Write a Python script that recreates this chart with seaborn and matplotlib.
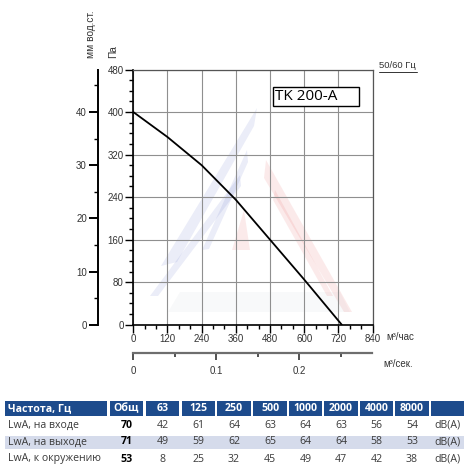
import numpy as np
import pandas as pd

import seaborn as sns
import matplotlib
matplotlib.use('Agg')
import matplotlib.pyplot as plt
from matplotlib.lines import Line2D
from matplotlib.patches import Rectangle, Polygon
from matplotlib.ticker import MultipleLocator

# =========================
#  DATA
# =========================

MODEL_NAME = 'TK 200-A'
FREQ_NOTE = '50/60 Гц'

FLOW_M3H = [0, 120, 240, 360, 480, 600, 732]
PRESSURE_PA = [400, 353, 300, 235, 160, 85, 0]

FLOW_TICKS = [0, 120, 240, 360, 480, 600, 720, 840]
PA_TICKS = [0, 80, 160, 240, 320, 400, 480]
MM_TICKS = [0, 10, 20, 30, 40]
FLOW_S_TICKS = [0, 0.1, 0.2]
FLOW_S_MAX = 0.287

TABLE_HEADER = ['Частота, Гц', 'Общ', '63', '125', '250', '500',
                '1000', '2000', '4000', '8000', '']
ROW_LABELS = ['LwA, на входе', 'LwA, на выходе', 'LwA, к окружению']
TOTAL_DB = [70, 71, 53]
INLET_DB = [42, 61, 64, 63, 64, 63, 56, 54]
OUTLET_DB = [49, 59, 62, 65, 64, 64, 58, 53]
SURROUND_DB = [8, 25, 32, 45, 49, 47, 42, 38]
UNIT = 'dB(A)'

# =========================
#  LAYOUT (pixels)
# =========================

W, H = 471, 472
DPI = 100
PLOT_L, PLOT_R, PLOT_T, PLOT_B = 133.3, 372.5, 69.5, 324.7
MM_X = 98
SEC_Y = 353

COL_LEFT = [5, 110, 146, 182, 217, 253, 289, 324, 360, 395, 431]
COL_RIGHT = [107, 143, 179, 215, 251, 287, 322, 358, 393, 429, 464]
HEAD_T, HEAD_B = 400.7, 416
ROW_Y = [425, 442, 459]
BAND_T, BAND_B = 435.7, 449

HEAD_BLUE = '#1d4b8c'
BAND_BLUE = '#d5dbeb'
GRID_GREY = '#8f8f8f'
TEXT_GREY = '#333333'

FONT = ['Liberation Sans', 'DejaVu Sans']
TABLE_FONT = ['Open Sans', 'DejaVu Sans']

# faint logo in the background (pixel outlines)
LOGO_BLUE = [[(257, 108), (161, 266), (177, 262), (254, 126)],
             [(247, 150), (202, 250), (209, 249), (248, 162)],
             [(240, 175), (150, 296), (158, 296), (241, 186)]]
LOGO_RED = [[(266, 160), (352, 312), (344, 312), (264, 178)],
            [(275, 190), (333, 296), (327, 296), (273, 200)],
            [(244, 210), (232, 250), (250, 250)]]
LOGO_BASE = [(180, 292), (340, 292), (350, 312), (168, 312)]


def box(l, t, r, b):
    return [l / W, 1 - b / H, (r - l) / W, (b - t) / H]


# =========================
#  BACKGROUND + NOISE TABLE
# =========================

def plot_background(fig):
    ax = fig.add_axes([0, 0, 1, 1])
    ax.set_xlim(0, W)
    ax.set_ylim(H, 0)
    ax.axis('off')

    ax.add_patch(Polygon(LOGO_BASE, facecolor='#8890a8', alpha=0.05, lw=0))
    for pts in LOGO_BLUE:
        ax.add_patch(Polygon(pts, facecolor='#4a5cc0', alpha=0.11, lw=0))
    for pts in LOGO_RED:
        ax.add_patch(Polygon(pts, facecolor='#e03a3a', alpha=0.10, lw=0))

    ax.add_patch(Rectangle((COL_LEFT[0], BAND_T), COL_RIGHT[-1] - COL_LEFT[0],
                           BAND_B - BAND_T, facecolor=BAND_BLUE, lw=0))

    for i, name in enumerate(TABLE_HEADER):
        l, r = COL_LEFT[i], COL_RIGHT[i]
        ax.add_patch(Rectangle((l, HEAD_T), r - l, HEAD_B - HEAD_T,
                               facecolor=HEAD_BLUE, lw=0))
        if i == 0:
            ax.text(l + 2.5, (HEAD_T + HEAD_B) / 2, name, ha='left',
                    va='center', fontsize=7.6, weight='bold', color='white',
                    family=TABLE_FONT)
        else:
            ax.text((l + r) / 2, (HEAD_T + HEAD_B) / 2, name, ha='center',
                    va='center', fontsize=7.6, weight='bold', color='white',
                    family=TABLE_FONT)

    rows = [INLET_DB, OUTLET_DB, SURROUND_DB]
    for j, label in enumerate(ROW_LABELS):
        y = ROW_Y[j]
        ax.text(COL_LEFT[0] + 2.5, y, label, ha='left', va='center',
                fontsize=7.6, color='#3a3a3a', family=TABLE_FONT)
        ax.text((COL_LEFT[1] + COL_RIGHT[1]) / 2, y, str(TOTAL_DB[j]),
                ha='center', va='center', fontsize=7.6, weight='bold',
                color='black', family=TABLE_FONT)
        for k, val in enumerate(rows[j]):
            c = k + 2
            ax.text((COL_LEFT[c] + COL_RIGHT[c]) / 2, y, str(val),
                    ha='center', va='center', fontsize=7.6, color='#3a3a3a',
                    family=TABLE_FONT)
        ax.text((COL_LEFT[-1] + COL_RIGHT[-1]) / 2, y, UNIT, ha='center',
                va='center', fontsize=7.6, color='#3a3a3a', family=TABLE_FONT)


# =========================
#  MAIN CURVE
# =========================

def plot_curve(fig):
    ax = fig.add_axes(box(PLOT_L, PLOT_T, PLOT_R, PLOT_B))
    ax.patch.set_visible(False)
    curve = pd.DataFrame({'flow': FLOW_M3H, 'pa': PRESSURE_PA})
    sns.lineplot(data=curve, x='flow', y='pa', ax=ax, color='black', lw=1.3)

    ax.set_xlim(FLOW_TICKS[0], FLOW_TICKS[-1])
    ax.set_ylim(PA_TICKS[0], PA_TICKS[-1])
    ax.set_xticks(FLOW_TICKS)
    ax.set_yticks(PA_TICKS)
    ax.xaxis.set_minor_locator(MultipleLocator(40))
    ax.yaxis.set_minor_locator(MultipleLocator(20))
    ax.set_xlabel('')
    ax.set_ylabel('')
    ax.grid(True, which='major', color=GRID_GREY, lw=0.8)

    ax.tick_params(which='both', bottom=True, left=True, color='black')
    ax.tick_params(which='major', direction='out', length=5.5, width=1,
                   pad=1.5, labelsize=7, labelcolor=TEXT_GREY)
    ax.tick_params(which='minor', direction='out', length=3, width=1)
    for lab in ax.get_xticklabels() + ax.get_yticklabels():
        lab.set_family(FONT)

    for side in ['left', 'bottom']:
        ax.spines[side].set_color('black')
        ax.spines[side].set_linewidth(1.2)
    for side in ['top', 'right']:
        ax.spines[side].set_color('#555555')
        ax.spines[side].set_linewidth(0.9)

    # model name box
    x0 = (273 - PLOT_L) / (PLOT_R - PLOT_L)
    x1 = (359 - PLOT_L) / (PLOT_R - PLOT_L)
    y0 = (PLOT_B - 105.7) / (PLOT_B - PLOT_T)
    y1 = (PLOT_B - 87) / (PLOT_B - PLOT_T)
    ax.add_patch(Rectangle((x0, y0), x1 - x0, y1 - y0, transform=ax.transAxes,
                           facecolor='white', edgecolor='black', lw=1, zorder=5))
    ax.text(x0 + 0.01, (y0 + y1) / 2, MODEL_NAME, transform=ax.transAxes,
            va='center', ha='left', fontsize=11, family=TABLE_FONT,
            color='black', zorder=6)
    return ax


# =========================
#  MM WATER COLUMN AXIS
# =========================

def plot_mm_axis(fig):
    ax = fig.add_axes(box(MM_X, PLOT_T, MM_X + 0.01, PLOT_B))
    ax.set_ylim(PA_TICKS[0] / 10, PA_TICKS[-1] / 10)
    ax.set_yticks(MM_TICKS)
    ax.yaxis.set_minor_locator(MultipleLocator(5))
    ax.set_xticks([])
    for side in ['top', 'right', 'bottom']:
        ax.spines[side].set_visible(False)
    ax.spines['left'].set_linewidth(1.4)
    ax.spines['left'].set_color('black')
    ax.patch.set_visible(False)
    ax.tick_params(which='both', left=True, color='black')
    ax.tick_params(which='major', direction='out', length=6.5, width=1.4,
                   pad=1.5, labelsize=7, labelcolor=TEXT_GREY)
    ax.tick_params(which='minor', direction='out', length=3, width=1)
    for lab in ax.get_yticklabels():
        lab.set_family(FONT)


# =========================
#  M3/S AXIS
# =========================

def plot_flow_s_axis(fig):
    ax = fig.add_axes(box(PLOT_L, SEC_Y - 0.1, 371.7, SEC_Y))
    ax.set_xlim(0, FLOW_S_MAX)
    ax.set_xticks(FLOW_S_TICKS)
    ax.set_xticklabels(['0', '0.1', '0.2'])
    ax.xaxis.set_minor_locator(MultipleLocator(0.05))
    ax.set_yticks([])
    for side in ['top', 'right', 'left']:
        ax.spines[side].set_visible(False)
    ax.spines['bottom'].set_color('#6e6e6e')
    ax.spines['bottom'].set_linewidth(1.6)
    ax.patch.set_visible(False)
    ax.tick_params(which='both', bottom=True, color='#333333')
    ax.tick_params(which='major', direction='out', length=5, width=1.2,
                   pad=4, labelsize=7, labelcolor=TEXT_GREY)
    ax.tick_params(which='minor', direction='out', length=2.8, width=1.2)
    for lab in ax.get_xticklabels():
        lab.set_family(FONT)


# =========================
#  AXIS LABELS
# =========================

def plot_labels(fig):
    fig.text(90.5 / W, 1 - 58 / H, 'мм вод.ст.', rotation=90, ha='center',
             va='bottom', fontsize=7.3, family=FONT, color=TEXT_GREY)
    fig.text(113.5 / W, 1 - 58 / H, 'Па', rotation=90, ha='center',
             va='bottom', fontsize=7.3, family=FONT, color=TEXT_GREY)
    fig.text(379 / W, 1 - 65 / H, FREQ_NOTE, ha='left', va='center',
             fontsize=6.8, family=FONT, color=TEXT_GREY)
    fig.add_artist(Line2D([379 / W, 417 / W], [1 - 71.5 / H, 1 - 71.5 / H],
                          color=TEXT_GREY, lw=0.7))
    fig.text(386 / W, 1 - 337 / H, 'м³/час', ha='left', va='center',
             fontsize=7, family=FONT, color=TEXT_GREY)
    fig.text(383 / W, 1 - 364 / H, 'м³/сек.', ha='left', va='center',
             fontsize=7, family=FONT, color=TEXT_GREY)


# =========================
#  MAIN FUNCTION
# =========================

def main():
    sns.set_theme(style='white')
    plt.rcParams['font.family'] = FONT

    fig = plt.figure(figsize=(W / DPI, H / DPI), dpi=DPI)
    plot_background(fig)
    plot_curve(fig)
    plot_mm_axis(fig)
    plot_flow_s_axis(fig)
    plot_labels(fig)

    fig.savefig('out.png', dpi=DPI)
    plt.close(fig)


if __name__ == '__main__':
    main()
